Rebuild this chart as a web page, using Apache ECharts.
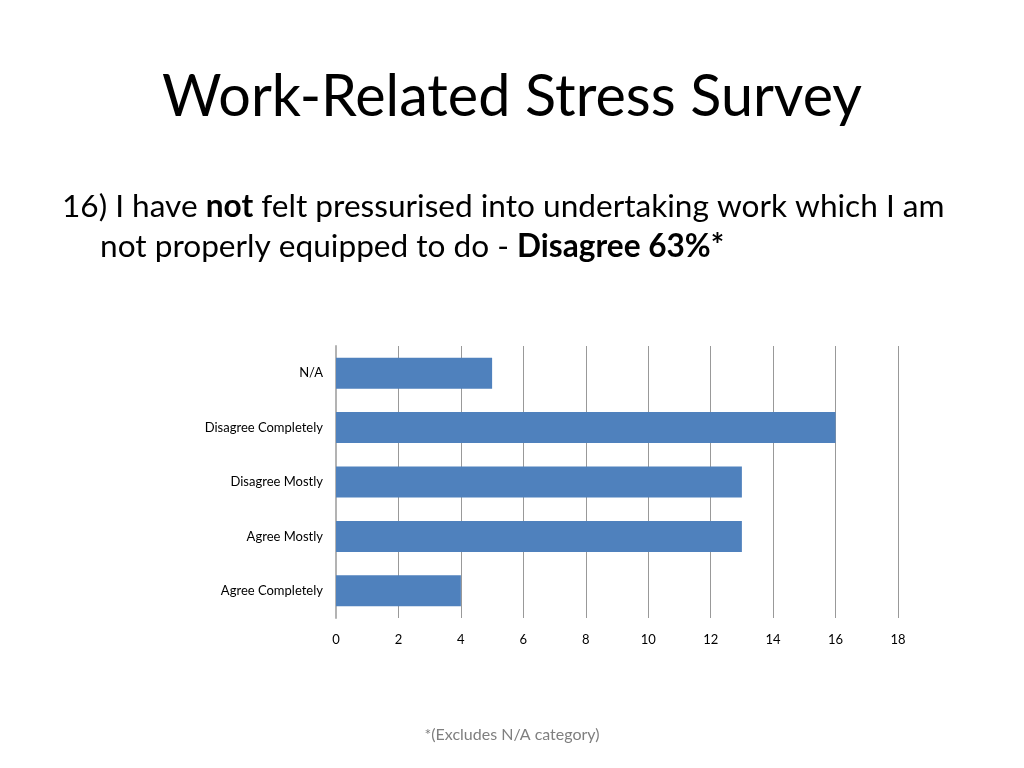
<!DOCTYPE html>
<html>
<head>
    <meta charset="utf-8">
    <title>Work-Related Stress Survey</title>
    <script src="https://cdn.jsdelivr.net/npm/echarts@6/dist/echarts.min.js"></script>
    <style>
        html, body { margin: 0; padding: 0; background: #fff; }
        #main { width: 1024px; height: 768px; }
    </style>
</head>
<body>
<div id="main"></div>
<script>
    // answers, listed top to bottom as on the slide
    var categories = ['N/A', 'Disagree Completely', 'Disagree Mostly', 'Agree Mostly', 'Agree Completely'];
    var counts = [5, 16, 13, 13, 4];

    var font = 'Lato, "Open Sans", sans-serif';

    var myChart = echarts.init(document.getElementById('main'));
    myChart.setOption({
        backgroundColor: '#ffffff',
        animation: false,
        title: [
            {
                text: 'Work-Related Stress Survey',
                left: 'center',
                top: 63,
                textStyle: { color: '#000', fontFamily: font, fontSize: 57.5, fontWeight: 'normal' }
            },
            {
                text: '16) I have {b|not} felt pressurised into undertaking work which I am',
                left: 57,
                top: 186,
                textStyle: {
                    color: '#000', fontFamily: font, fontSize: 31.6, fontWeight: 'normal',
                    rich: { b: { fontFamily: font, fontSize: 31.6, fontWeight: 'bold', color: '#000' } }
                }
            },
            {
                text: 'not properly equipped to do - {b|Disagree 63%*}',
                left: 95,
                top: 226,
                textStyle: {
                    color: '#000', fontFamily: font, fontSize: 31.6, fontWeight: 'normal',
                    rich: { b: { fontFamily: font, fontSize: 31.6, fontWeight: 'bold', color: '#000' } }
                }
            },
            {
                text: '*(Excludes N/A category)',
                left: 'center',
                top: 722,
                textStyle: { color: '#7f7f7f', fontFamily: font, fontSize: 16, fontWeight: 'normal' }
            }
        ],
        grid: { left: 336, right: 126, top: 346, bottom: 150 },
        xAxis: {
            type: 'value',
            min: 0,
            max: 18,
            interval: 2,
            axisLine: { show: false },
            axisTick: { show: false },
            axisLabel: { color: '#000', fontFamily: font, fontSize: 13, margin: 15 },
            splitLine: { show: true, lineStyle: { color: '#999', width: 1 } }
        },
        yAxis: {
            type: 'category',
            inverse: true,
            data: categories,
            axisLine: { show: true, lineStyle: { color: '#b3b3b3', width: 2 } },
            axisTick: { show: false },
            axisLabel: { color: '#000', fontFamily: font, fontSize: 13, margin: 13 }
        },
        series: [
            {
                type: 'bar',
                data: counts,
                barCategoryGap: '43%',
                itemStyle: { color: '#4f81bd' }
            }
        ]
    });
</script>
</body>
</html>
